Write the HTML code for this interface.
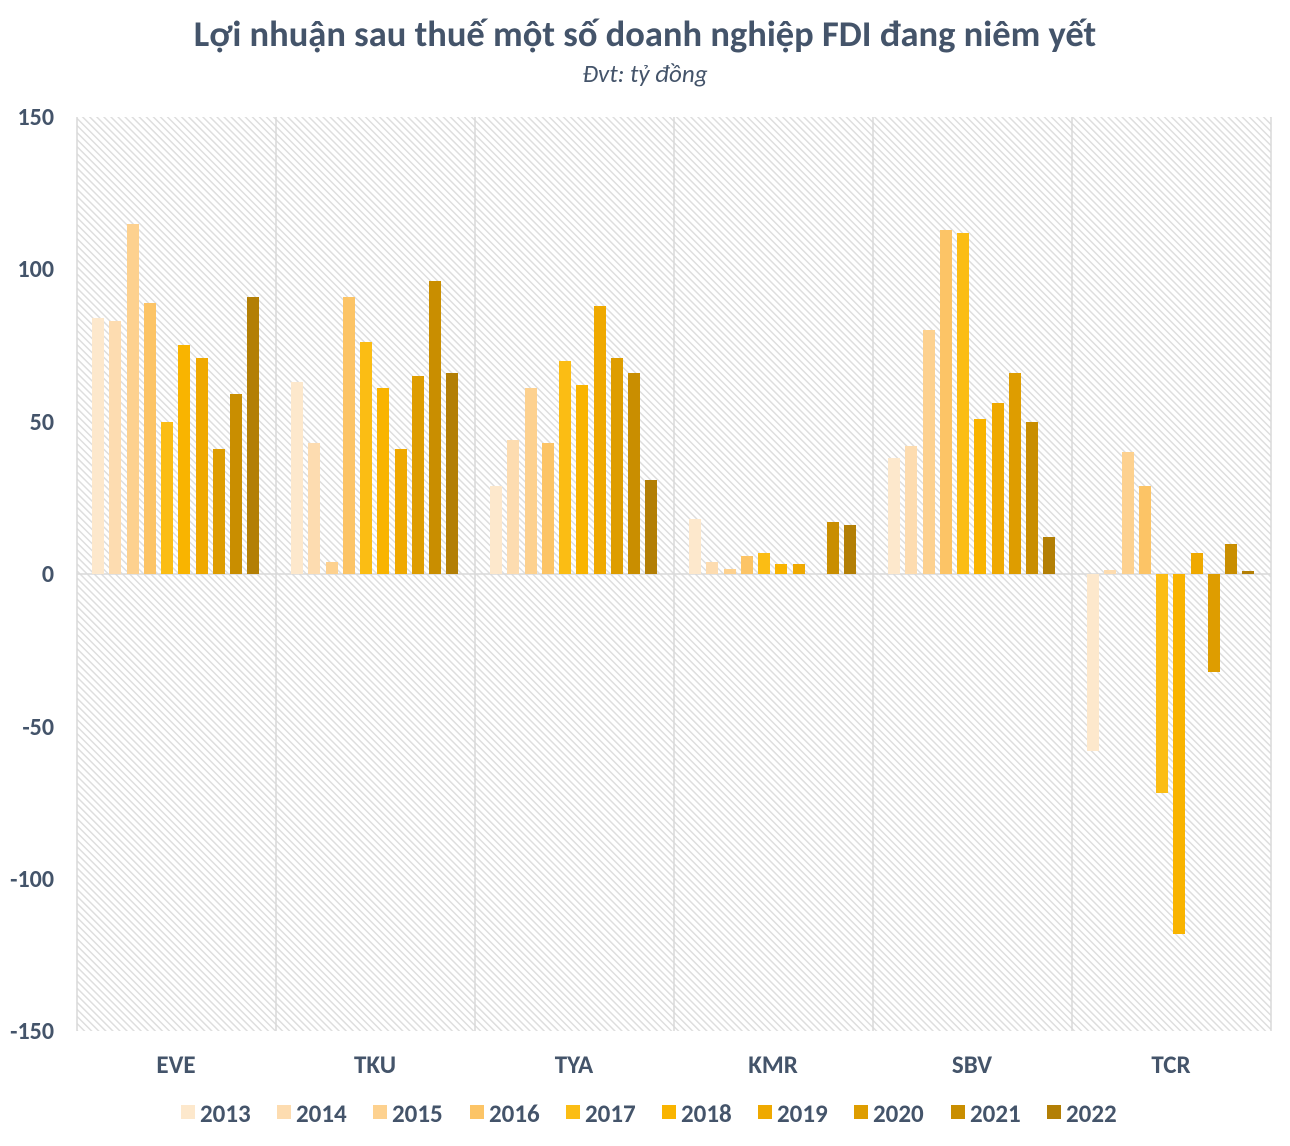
<!DOCTYPE html>
<html><head><meta charset="utf-8"><style>body{margin:0;background:#fff}svg{display:block}</style></head><body>
<svg width="1290" height="1146" xmlns="http://www.w3.org/2000/svg" font-family="Carlito, Calibri, 'Liberation Sans', sans-serif">
<defs><pattern id="h" width="5" height="5" patternUnits="userSpaceOnUse" patternTransform="rotate(-45)"><rect width="5" height="5" fill="#fff"/><rect width="1.5" height="5" fill="#dedede"/></pattern></defs>
<text x="645" y="46" text-anchor="middle" font-size="36.5" font-weight="bold" fill="#44546a">Lợi nhuận sau thuế một số doanh nghiệp FDI đang niêm yết</text>
<text x="645" y="82" text-anchor="middle" font-size="25" font-style="italic" fill="#44546a">Đvt: tỷ đồng</text>
<rect x="77" y="117" width="1194" height="914" fill="url(#h)"/>
<g stroke="#d9d9d9" stroke-width="1.5"><line x1="276" y1="117" x2="276" y2="1031"/><line x1="475" y1="117" x2="475" y2="1031"/><line x1="674" y1="117" x2="674" y2="1031"/><line x1="873" y1="117" x2="873" y2="1031"/><line x1="1072" y1="117" x2="1072" y2="1031"/><line x1="1271" y1="117" x2="1271" y2="1031"/><line x1="77" y1="117" x2="77" y2="1031"/><line x1="77" y1="574" x2="1271" y2="574"/></g>
<g font-size="24" font-weight="bold" fill="#44546a" text-anchor="end"><text x="54" y="125">150</text><text x="54" y="277">100</text><text x="54" y="430">50</text><text x="54" y="582">0</text><text x="54" y="735">-50</text><text x="54" y="887">-100</text><text x="54" y="1039">-150</text></g>
<g font-size="25" font-weight="bold" fill="#44546a" text-anchor="middle"><text x="176" y="1073">EVE</text><text x="375" y="1073">TKU</text><text x="574" y="1073">TYA</text><text x="773" y="1073">KMR</text><text x="972" y="1073">SBV</text><text x="1171" y="1073">TCR</text></g>
<g transform="translate(92,0)">
<rect x="0" y="318" width="12" height="256" fill="#fde8cc"/><rect x="17" y="321" width="12" height="253" fill="#fddcb0"/><rect x="35" y="224" width="12" height="350" fill="#fdd18f"/><rect x="52" y="303" width="12" height="271" fill="#fcc466"/><rect x="69" y="422" width="12" height="152" fill="#fbbd14"/><rect x="86" y="345" width="12" height="229" fill="#f9b400"/><rect x="104" y="358" width="12" height="216" fill="#efa900"/><rect x="121" y="449" width="12" height="125" fill="#de9d00"/><rect x="138" y="394" width="12" height="180" fill="#c98e00"/><rect x="155" y="297" width="12" height="277" fill="#b37f05"/>
</g>
<g transform="translate(291,0)">
<rect x="0" y="382" width="12" height="192" fill="#fde8cc"/><rect x="17" y="443" width="12" height="131" fill="#fddcb0"/><rect x="35" y="562" width="12" height="12" fill="#fdd18f"/><rect x="52" y="297" width="12" height="277" fill="#fcc466"/><rect x="69" y="342" width="12" height="232" fill="#fbbd14"/><rect x="86" y="388" width="12" height="186" fill="#f9b400"/><rect x="104" y="449" width="12" height="125" fill="#efa900"/><rect x="121" y="376" width="12" height="198" fill="#de9d00"/><rect x="138" y="281" width="12" height="293" fill="#c98e00"/><rect x="155" y="373" width="12" height="201" fill="#b37f05"/>
</g>
<g transform="translate(490,0)">
<rect x="0" y="486" width="12" height="88" fill="#fde8cc"/><rect x="17" y="440" width="12" height="134" fill="#fddcb0"/><rect x="35" y="388" width="12" height="186" fill="#fdd18f"/><rect x="52" y="443" width="12" height="131" fill="#fcc466"/><rect x="69" y="361" width="12" height="213" fill="#fbbd14"/><rect x="86" y="385" width="12" height="189" fill="#f9b400"/><rect x="104" y="306" width="12" height="268" fill="#efa900"/><rect x="121" y="358" width="12" height="216" fill="#de9d00"/><rect x="138" y="373" width="12" height="201" fill="#c98e00"/><rect x="155" y="480" width="12" height="94" fill="#b37f05"/>
</g>
<g transform="translate(689,0)">
<rect x="0" y="519" width="12" height="55" fill="#fde8cc"/><rect x="17" y="562" width="12" height="12" fill="#fddcb0"/><rect x="35" y="569" width="12" height="5" fill="#fdd18f"/><rect x="52" y="556" width="12" height="18" fill="#fcc466"/><rect x="69" y="553" width="12" height="21" fill="#fbbd14"/><rect x="86" y="564" width="12" height="10" fill="#f9b400"/><rect x="104" y="564" width="12" height="10" fill="#efa900"/><rect x="138" y="522" width="12" height="52" fill="#c98e00"/><rect x="155" y="525" width="12" height="49" fill="#b37f05"/>
</g>
<g transform="translate(888,0)">
<rect x="0" y="458" width="12" height="116" fill="#fde8cc"/><rect x="17" y="446" width="12" height="128" fill="#fddcb0"/><rect x="35" y="330" width="12" height="244" fill="#fdd18f"/><rect x="52" y="230" width="12" height="344" fill="#fcc466"/><rect x="69" y="233" width="12" height="341" fill="#fbbd14"/><rect x="86" y="419" width="12" height="155" fill="#f9b400"/><rect x="104" y="403" width="12" height="171" fill="#efa900"/><rect x="121" y="373" width="12" height="201" fill="#de9d00"/><rect x="138" y="422" width="12" height="152" fill="#c98e00"/><rect x="155" y="537" width="12" height="37" fill="#b37f05"/>
</g>
<g transform="translate(1087,0)">
<rect x="0" y="574" width="12" height="177" fill="#fde8cc"/><rect x="17" y="570" width="12" height="4" fill="#fddcb0"/><rect x="35" y="452" width="12" height="122" fill="#fdd18f"/><rect x="52" y="486" width="12" height="88" fill="#fcc466"/><rect x="69" y="574" width="12" height="219" fill="#fbbd14"/><rect x="86" y="574" width="12" height="360" fill="#f9b400"/><rect x="104" y="553" width="12" height="21" fill="#efa900"/><rect x="121" y="574" width="12" height="98" fill="#de9d00"/><rect x="138" y="544" width="12" height="30" fill="#c98e00"/><rect x="155" y="571" width="12" height="3" fill="#b37f05"/>
</g>
<g font-size="25" font-weight="bold" fill="#44546a">
<rect x="181" y="1105" width="14" height="14" fill="#fde8cc"/><text x="200" y="1122">2013</text>
<rect x="277" y="1105" width="14" height="14" fill="#fddcb0"/><text x="296" y="1122">2014</text>
<rect x="373" y="1105" width="14" height="14" fill="#fdd18f"/><text x="392" y="1122">2015</text>
<rect x="470" y="1105" width="14" height="14" fill="#fcc466"/><text x="489" y="1122">2016</text>
<rect x="566" y="1105" width="14" height="14" fill="#fbbd14"/><text x="585" y="1122">2017</text>
<rect x="662" y="1105" width="14" height="14" fill="#f9b400"/><text x="681" y="1122">2018</text>
<rect x="758" y="1105" width="14" height="14" fill="#efa900"/><text x="777" y="1122">2019</text>
<rect x="854" y="1105" width="14" height="14" fill="#de9d00"/><text x="873" y="1122">2020</text>
<rect x="951" y="1105" width="14" height="14" fill="#c98e00"/><text x="970" y="1122">2021</text>
<rect x="1047" y="1105" width="14" height="14" fill="#b37f05"/><text x="1066" y="1122">2022</text>
</g>
</svg>
</body></html>
